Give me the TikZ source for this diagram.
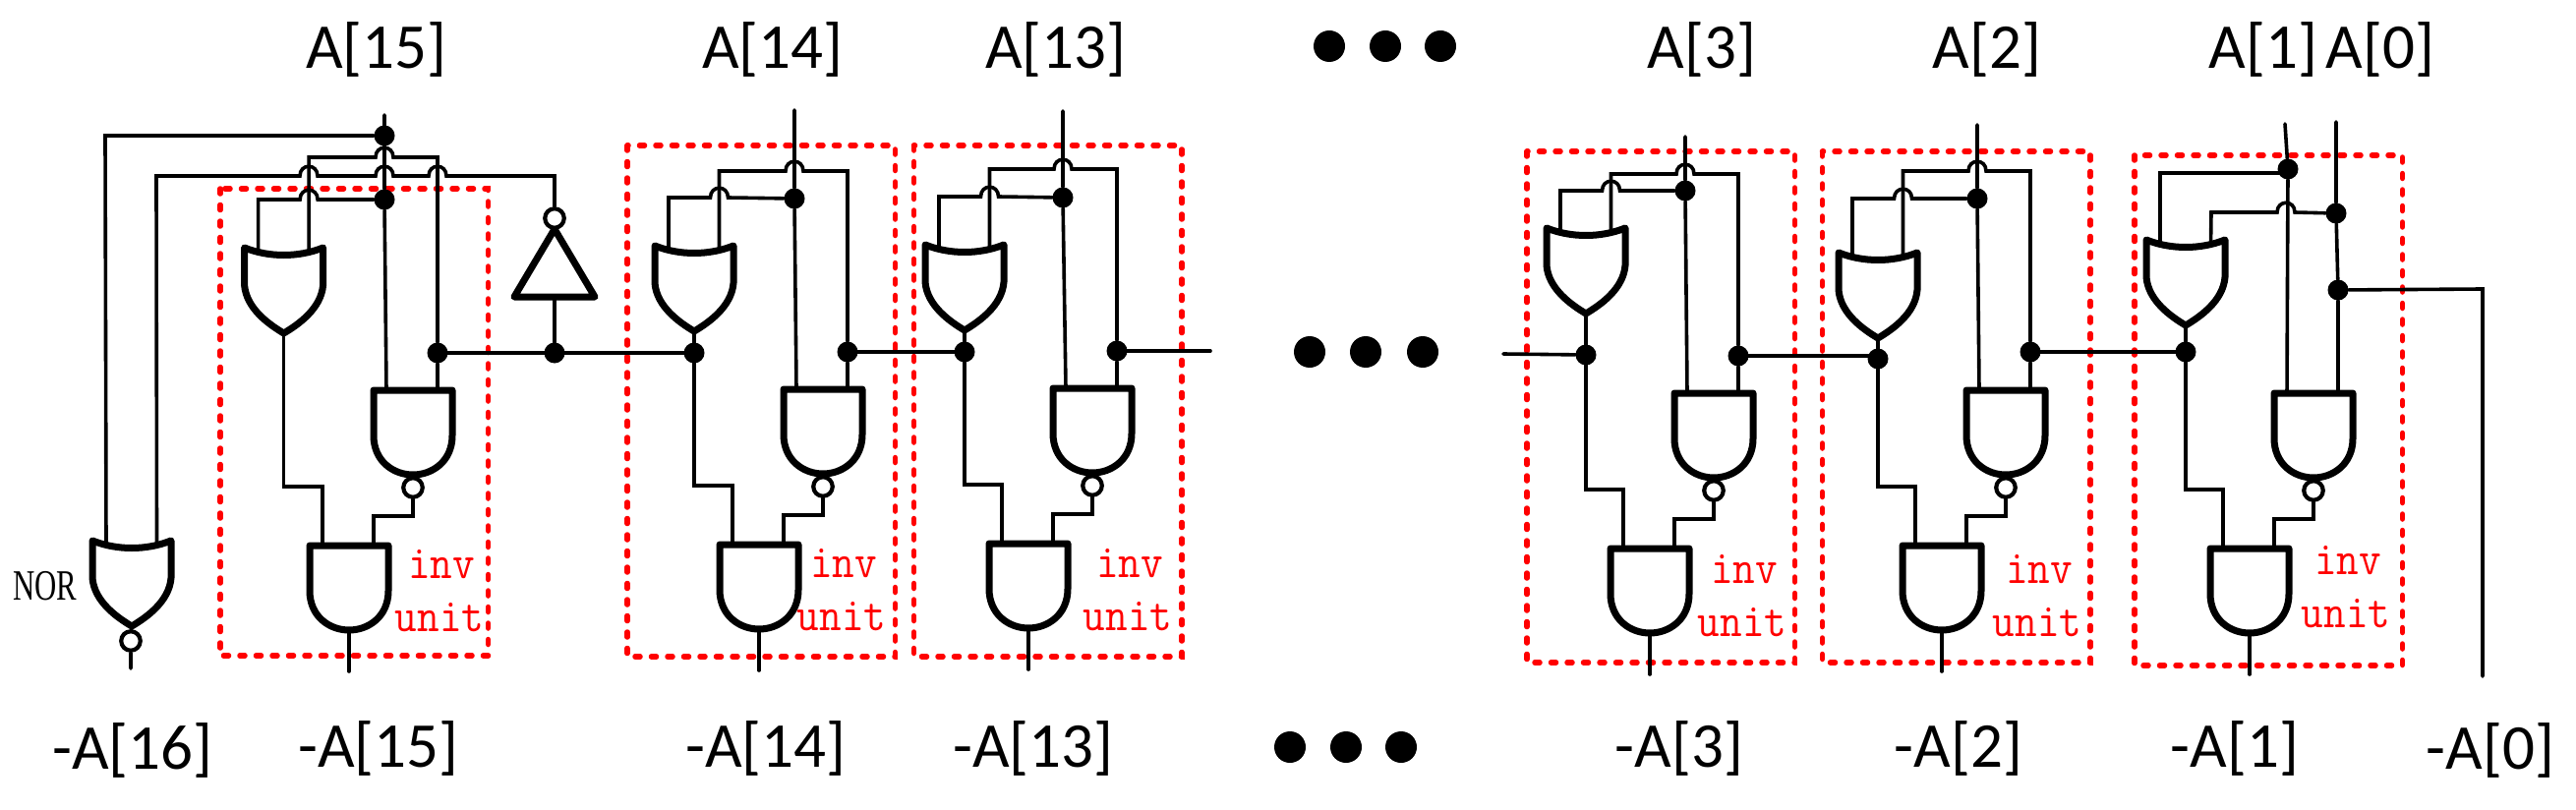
\documentclass[tikz,border=0pt]{standalone}
\usepackage{fontspec}
\usepackage{graphicx}
\setmainfont{Carlito}
\newfontfamily\norfont{Liberation Serif}
\tikzset{
  x=1pt,y=-1pt,
  wire/.style={line width=3.6pt,line join=miter,line cap=round},
  gate/.style={line width=7pt,line join=round,line cap=round},
  jdot/.style={circle,fill=black,draw=none,minimum size=21pt,inner sep=0pt},
  nodot/.style={inner sep=0pt,minimum size=0pt},
  bubble/.style={circle,draw=black,fill=white,line width=4.2pt,minimum size=19.5pt,inner sep=0pt},
  bigdot/.style={circle,fill=black,draw=none,minimum size=32pt,inner sep=0pt},
  redbox/.style={draw=red,line width=5.5pt,line cap=round,dash pattern=on 5pt off 11.5pt},
  lbl/.style={anchor=base,inner sep=0pt,font=\fontsize{65}{72}\selectfont},
  unitlbl/.style={anchor=base,inner sep=0pt,text=red,font=\ttfamily\fontsize{44}{48}\selectfont},
  orshape/.pic={
    \draw[gate] (-40,0) .. controls (-15,10) and (15,10) .. (40,0) -- (40,38)
      .. controls (38,62) and (15,78) .. (0,87) .. controls (-15,78) and (-38,62) .. (-40,38) -- cycle;
    \coordinate (-in1) at (-26,6);
    \coordinate (-in2) at (25.5,6);
    \coordinate (-out) at (0,87);
  },
  nandshape/.pic={
    \draw[gate] (-40,0) -- (40,0) -- (40,46) .. controls (40,72) and (20,86) .. (0,86)
      .. controls (-20,86) and (-40,72) .. (-40,46) -- cycle;
    \coordinate (-in1) at (-27,0);
    \coordinate (-in2) at (25,0);
    \coordinate (-out) at (0,86);
  },
  invshape/.pic={
    \draw[gate] (0,0) -- (41,69) -- (-41,69) -- cycle;
    \coordinate (-out) at (0,69);
  }
}
\newcommand{\unittext}[1]{\scalebox{1}[1.1]{#1}}
\begin{document}
\begin{tikzpicture}
\useasboundingbox (0,0) rectangle (2620,824);
% gates and lower wiring of every inv unit
\foreach \nm/\bl/\bt/\bb/\ox/\oy/\jy/\js/\nx/\ny/\tx/\ty in {
  u15/224/192/667/288.6/252/359/nodot/420/397/449/588,
  u14/638/148/668/706/250/359/jdot/837/396/858/587,
  u13/929.5/148/668/981/249/358/jdot/1111/395/1149/587,
  u3/1553/154/674/1613/232/361/jdot/1743/400/1774/593,
  u2/1853.5/154/674/1910/257/365/jdot/2040/397/2074/593,
  u1/2171/158/677/2223/244/358/jdot/2353/400/2388/584}{
  \draw[redbox] (\bl,\bt) rectangle (\bl+272.5,\bb);
  \pic (\nm-or) at (\ox,\oy) {orshape};
  \pic (\nm-nand) at (\nx,\ny) {nandshape};
  \pic (\nm-and) at (\nx-65,\ny+158) {nandshape};
  \node[\js] (\nm-j) at (\ox,\jy) {};
  \node[bubble] (\nm-nb) at (\nx,\ny+99) {};
  \coordinate (\nm-end) at (\nx-65,\ny+286);
  \draw[wire] (\nm-or-out) -- (\nm-j);
  \draw[wire] (\nm-j) -- (\ox,\ny+98) -| (\nm-and-in1);
  \draw[wire] (\nm-nb) -- (\nx,\ny+128) -| (\nm-and-in2);
  \draw[wire] (\nm-and-out) -- (\nm-end);
  \node[unitlbl] (\nm-inv) at (\tx,\ty) {\unittext{inv}};
  \node[unitlbl] (\nm-unit) at (\tx-2,\ty+54) {\unittext{unit}};
}
% input rails of the regular units
\foreach \nm/\ox/\nx/\w/\wt/\wd/\up/\lf/\rdy in {
  u15/288.6/420/391/117/203/160/203/359,
  u14/706/837/808/112/202/174/201/358,
  u13/981/1111/1081/113/201/172/200/357,
  u3/1613/1743/1714/139/194/177/194/362,
  u2/1910/2040/2011/127/202/174/202/358}{
  \node[jdot] (\nm-d) at (\w,\wd) {};
  \node[jdot] (\nm-rd) at (\nx+25,\rdy) {};
  \coordinate (\nm-top) at (\w,\wt);
  \draw[wire] (\nm-top) -- (\nm-d) -- (\nm-nand-in1);
  \draw[wire] (\nm-or-in2) -- (\ox+25.5,\up) -- (\w-9,\up)
     .. controls +(0,-13) and +(0,-13) .. ++(18,0) -- (\nx+25,\up) -- (\nm-rd) -- (\nm-nand-in2);
  \draw[wire] (\nm-or-in1) -- (\ox-26,\lf) -- (\ox+16.5,\lf)
     .. controls +(0,-13) and +(0,-13) .. ++(18,0) -- (\nm-d);
}
% first unit: NOR and inverter
\pic (nor) at (134,550) {orshape};
\node[bubble] (nor-b) at (133,652) {};
\coordinate (nor-end) at (133,680);
\draw[wire] (nor-out) -- (nor-b) -- (nor-end);
\node[jdot] (top15) at (391,138) {};
\draw[wire] (nor-in1) -- (107,138) -- (top15);
\pic (inv) at (564,233) {invshape};
\node[bubble] (inv-b) at (564,222) {};
\node[jdot] (inv-d) at (564,359) {};
\draw[wire] (inv-out) -- (inv-d);
\draw[wire] (nor-in2) -- (159,179) -- (305,179)
   .. controls +(0,-13) and +(0,-13) .. ++(18,0) -- (382,179)
   .. controls +(0,-13) and +(0,-13) .. ++(18,0) -- (436,179)
   .. controls +(0,-13) and +(0,-13) .. ++(18,0) -- (564,179) -- (inv-b);
\draw[wire] (u15-rd) -- (inv-d) -- (u14-j);
\draw[wire] (u14-rd) -- (u13-j);
\coordinate (gapL) at (1231,357);
\coordinate (gapR) at (1529,360);
\draw[wire] (u13-rd) -- (gapL);
\draw[wire] (gapR) -- (u3-j);
\coordinate (u2jin) at (1902,362);
\draw[wire] (u3-rd) -- (u2jin);
\draw[wire] (u2-rd) -- (u1-j);
% last unit: A[1], A[0]
\coordinate (a1top) at (2324,126);
\coordinate (a0top) at (2376,124);
\node[jdot] (a1d) at (2327,172) {};
\node[jdot] (a0d) at (2376,217) {};
\node[jdot] (a0e) at (2378,295) {};
\coordinate (a0bend) at (2525,294);
\coordinate (a0end) at (2525,688);
\coordinate (a1in) at (2320,176);
\draw[wire] (a1top) -- (a1d) -- (u1-nand-in1);
\draw[wire] (a0top) -- (a0d) -- (a0e) -- (u1-nand-in2);
\draw[wire] (u1-or-in1) -- (2197,176) -- (a1in);
\draw[wire] (u1-or-in2) -- (2249,216) -- (2316,216)
   .. controls +(0,-13) and +(0,-13) .. ++(18,0) -- (a0d);
\draw[wire] (a0e) -- (a0bend) -- (a0end);
% labels
\node[lbl] (t15) at (383,70) {A[15]};
\node[lbl] (t14) at (786,70) {A[14]};
\node[lbl] (t13) at (1074,70) {A[13]};
\node[lbl] (t3) at (1731,70) {A[3]};
\node[lbl] (t2) at (2021,70) {A[2]};
\node[lbl] (t1) at (2302,70) {A[1]};
\node[lbl] (t0) at (2421,70) {A[0]};
\node[lbl] (b16) at (135,782) {-A[16]};
\node[lbl] (b15) at (385,780) {-A[15]};
\node[lbl] (b14) at (779,780) {-A[14]};
\node[lbl] (b13) at (1051,780) {-A[13]};
\node[lbl] (b3) at (1708,780) {-A[3]};
\node[lbl] (b2) at (1992,780) {-A[2]};
\node[lbl] (b1) at (2273,780) {-A[1]};
\node[lbl] (b0) at (2533,782) {-A[0]};
\node[anchor=base,inner sep=0pt,font=\norfont\fontsize{44}{48}\selectfont] (norlbl) at (46,610) {\scalebox{0.7}[1]{NOR}};
\foreach \i/\a/\b/\c/\yy in {t/1352/1409/1465/47,m/1332/1389/1447/358,b/1312/1369/1425/760}{
  \node[bigdot] (\i d1) at (\a,\yy) {};
  \node[bigdot] (\i d2) at (\b,\yy) {};
  \node[bigdot] (\i d3) at (\c,\yy) {};
}
\end{tikzpicture}
\end{document}
